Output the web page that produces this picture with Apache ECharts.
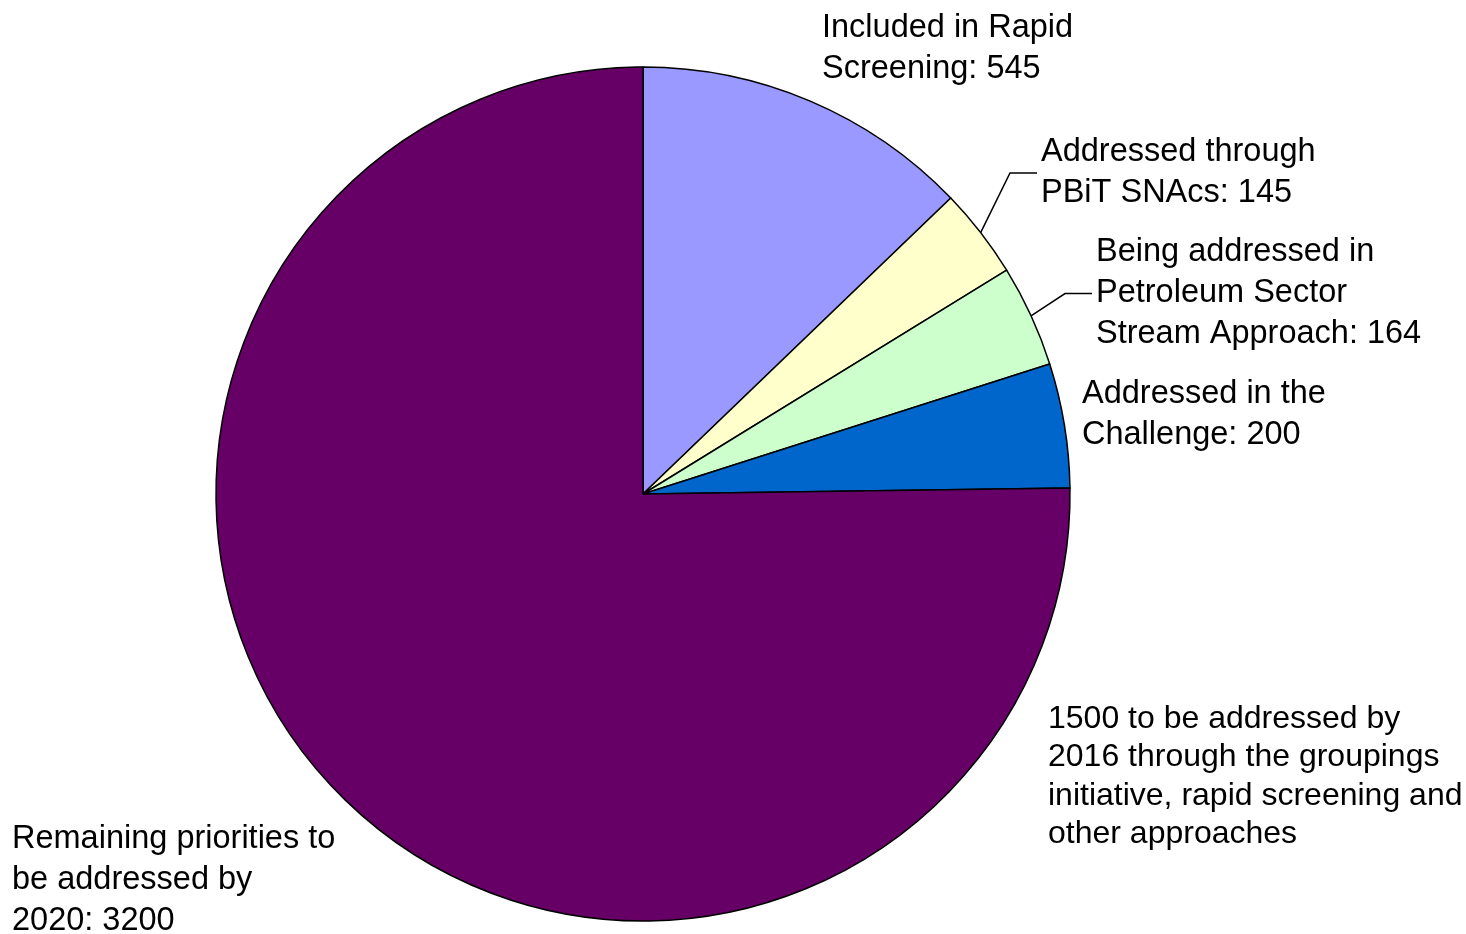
<!DOCTYPE html>
<html>
<head>
<meta charset="utf-8">
<script src="https://cdn.jsdelivr.net/npm/echarts@6/dist/echarts.min.js"></script>
<style>
html,body{margin:0;padding:0;background:#fff;}
#chart{width:1466px;height:934px;}
</style>
</head>
<body>
<div id="chart"></div>
<script>
// ---- data ----
const categories = [
  "Included in Rapid\nScreening",
  "Addressed through\nPBiT SNAcs",
  "Being addressed in\nPetroleum Sector\nStream Approach",
  "Addressed in the\nChallenge",
  "Remaining priorities to\nbe addressed by\n2020"
];
const values = [545, 145, 164, 200, 3200];
const annotationText = "1500 to be addressed by\n2016 through the groupings\ninitiative, rapid screening and\nother approaches";

// ---- styling / layout (not data) ----
const colors = ["#9999FF", "#FFFFCC", "#CCFFCC", "#0066CC", "#660066"];
const showLeader = [false, true, true, false, false];
const labelPos = [
  { x: 822, y: 49 },
  { x: 1037, y: 173 },
  { x: 1092, y: 293.5 },
  { x: 1082, y: 414.5 },
  { x: 12, y: 880 }
];
const FONT = "'Liberation Sans', Arial, sans-serif";

const chart = echarts.init(document.getElementById('chart'), null, { renderer: 'canvas' });

const seriesData = categories.map((name, i) => ({
  name: name,
  value: values[i],
  itemStyle: { color: colors[i] },
  label: showLeader[i] ? { padding: [0, 0, 0, 4], backgroundColor: 'rgba(0,0,0,0)' } : {},
  labelLine: { show: showLeader[i], length2: 27 }
}));

chart.setOption({
  animation: false,
  backgroundColor: '#ffffff',
  series: [{
    type: 'pie',
    center: [643, 494],
    radius: [0, 427],
    startAngle: 90,
    clockwise: true,
    avoidLabelOverlap: false,
    silent: true,
    emphasis: { disabled: true },
    itemStyle: { borderColor: '#000000', borderWidth: 1.5 },
    label: {
      show: true,
      position: 'outside',
      formatter: '{b}: {c}',
      color: '#000000',
      fontSize: 32.5,
      lineHeight: 41,
      fontFamily: FONT,
      align: 'left'
    },
    labelLine: {
      show: false,
      lineStyle: { color: '#000000', width: 1.5 }
    },
    labelLayout: function (params) {
      const p = labelPos[params.dataIndex];
      return { x: p.x, y: p.y, align: 'left', verticalAlign: 'middle' };
    },
    data: seriesData
  }],
  graphic: [{
    type: 'text',
    left: 1048,
    top: 700,
    silent: true,
    style: {
      text: annotationText,
      fill: '#000000',
      fontSize: 32,
      lineHeight: 38.3,
      fontFamily: FONT
    }
  }]
});
</script>
</body>
</html>
